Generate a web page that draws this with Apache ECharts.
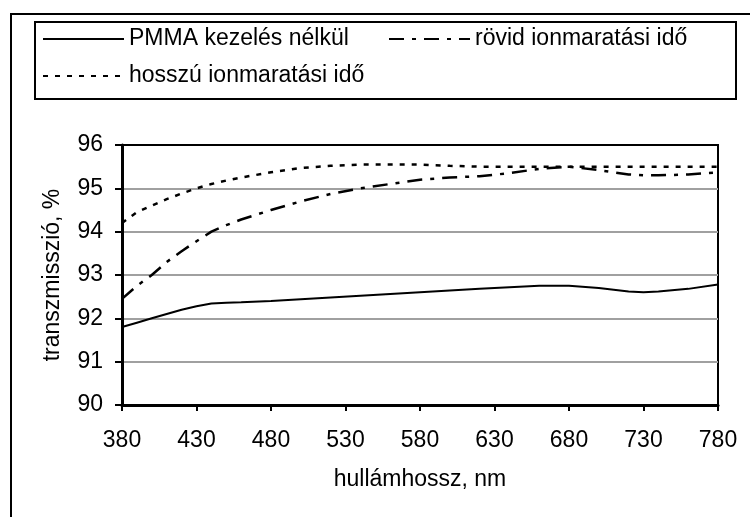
<!DOCTYPE html>
<html>
<head>
<meta charset="utf-8">
<script src="https://cdn.jsdelivr.net/npm/echarts@6/dist/echarts.min.js"></script>
<style>html,body{margin:0;padding:0;background:#fff;}#c{width:750px;height:517px;}</style>
</head>
<body>
<div id="c"></div>
<script>
var wavelengths = [380, 390, 400, 410, 420, 430, 440, 450, 460, 480, 500, 520, 540, 560, 580, 600, 620, 640, 660, 680, 700, 720, 730, 740, 760, 780];
var pmma  = [91.8, 91.9, 92.0, 92.1, 92.2, 92.28, 92.34, 92.36, 92.37, 92.4, 92.44, 92.48, 92.52, 92.56, 92.6, 92.64, 92.68, 92.72, 92.75, 92.75, 92.7, 92.62, 92.6, 92.62, 92.68, 92.78];
var rovid = [92.45, 92.75, 93.0, 93.3, 93.55, 93.78, 94.0, 94.15, 94.28, 94.5, 94.7, 94.87, 95.0, 95.1, 95.2, 95.25, 95.28, 95.35, 95.45, 95.5, 95.42, 95.32, 95.3, 95.3, 95.32, 95.37];
var hosszu = [94.2, 94.45, 94.6, 94.75, 94.88, 95.0, 95.1, 95.18, 95.25, 95.37, 95.47, 95.52, 95.55, 95.55, 95.55, 95.52, 95.5, 95.5, 95.5, 95.5, 95.5, 95.5, 95.5, 95.5, 95.5, 95.5];
var seriesNames = ['PMMA kezelés nélkül', 'rövid ionmaratási idő', 'hosszú ionmaratási idő'];
var xTicks = [380, 430, 480, 530, 580, 630, 680, 730, 780];
var yTicks = [90, 91, 92, 93, 94, 95, 96];
var xName = 'hullámhossz, nm';
var yName = 'transzmisszió, %';

function pairs(ys) { return wavelengths.map(function (x, i) { return [x, ys[i]]; }); }

var FONT = "'Liberation Sans', Arial, sans-serif";
var chart = echarts.init(document.getElementById('c'), null, {renderer: 'canvas'});

function legendAt(name, left, top) {
  return {
    data: [name], left: left, top: top, padding: 0, orient: 'horizontal',
    itemWidth: 81, itemHeight: 26, itemGap: 0, selectedMode: false,
    itemStyle: {opacity: 0},
    textStyle: {fontFamily: FONT, fontSize: 23, color: '#000', lineHeight: 26}
  };
}

chart.setOption({
  animation: false,
  backgroundColor: '#fff',
  graphic: [
    {type: 'rect', shape: {x: 11, y: 14, width: 760, height: 540}, style: {fill: 'none', stroke: '#000', lineWidth: 2}, z: 0},
    {type: 'rect', shape: {x: 35, y: 22, width: 701, height: 77}, style: {fill: 'none', stroke: '#000', lineWidth: 2}, z: 0}
  ],
  legend: [
    legendAt(seriesNames[0], 42, 26),
    legendAt(seriesNames[1], 388, 26),
    legendAt(seriesNames[2], 42, 63)
  ],
  grid: {left: 122, right: 32, top: 145, bottom: 112, show: true, borderColor: '#000', borderWidth: 2, backgroundColor: 'transparent'},
  xAxis: {
    type: 'value', min: xTicks[0], max: xTicks[xTicks.length - 1], interval: 50,
    name: xName, nameLocation: 'middle', nameGap: 63,
    nameTextStyle: {fontFamily: FONT, fontSize: 23, color: '#000'},
    axisLine: {show: true, onZero: false, lineStyle: {color: '#000', width: 3}},
    axisTick: {show: true, inside: false, length: 6, lineStyle: {color: '#000', width: 2}},
    axisLabel: {fontFamily: FONT, fontSize: 23, color: '#000', margin: 24},
    splitLine: {show: false}
  },
  yAxis: {
    type: 'value', min: yTicks[0], max: yTicks[yTicks.length - 1], interval: 1,
    name: yName, nameLocation: 'middle', nameGap: 58, nameRotate: 90,
    nameTextStyle: {fontFamily: FONT, fontSize: 23, color: '#000'},
    axisLine: {show: true, lineStyle: {color: '#000', width: 3}},
    axisTick: {show: true, inside: false, length: 7, lineStyle: {color: '#000', width: 2}},
    axisLabel: {fontFamily: FONT, fontSize: 23, color: '#000', margin: 19},
    splitLine: {show: true, showMinLine: false, showMaxLine: false, lineStyle: {color: '#a0a0a0', width: 2}}
  },
  series: [
    {name: seriesNames[0], type: 'line', data: pairs(pmma), symbol: 'none', smooth: false,
     lineStyle: {color: '#000', width: 2, type: 'solid'}, itemStyle: {color: '#000'}, z: 5},
    {name: seriesNames[1], type: 'line', data: pairs(rovid), symbol: 'none', smooth: false,
     lineStyle: {color: '#000', width: 2.5, type: [15, 8, 4, 8]}, itemStyle: {color: '#000'}, z: 5},
    {name: seriesNames[2], type: 'line', data: pairs(hosszu), symbol: 'none', smooth: false,
     lineStyle: {color: '#000', width: 2.5, type: [5, 7]}, itemStyle: {color: '#000'}, z: 5}
  ]
});
</script>
</body>
</html>
